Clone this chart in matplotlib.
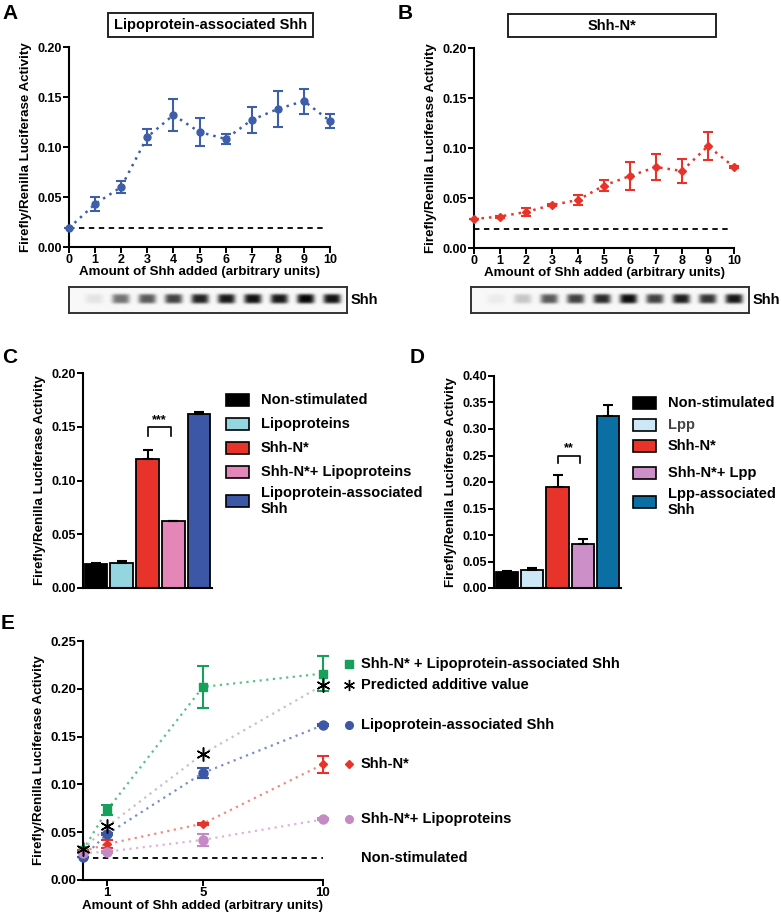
import numpy as np
import matplotlib
matplotlib.use('Agg')
import matplotlib.pyplot as plt
from matplotlib.patches import Rectangle

plt.rcParams['font.family'] = ['Liberation Sans', 'DejaVu Sans']
plt.rcParams['font.weight'] = 'bold'
plt.rcParams['axes.labelweight'] = 'bold'

W, H = 781, 917

# ---- panel A / B : dose response ----
shh_units = np.arange(0, 11)
lipo_mean = [0.019, 0.043, 0.060, 0.110, 0.132, 0.115, 0.108, 0.127, 0.138, 0.146, 0.126]
lipo_err = [0.0, 0.007, 0.006, 0.008, 0.016, 0.014, 0.005, 0.013, 0.018, 0.0125, 0.007]
shhn_mean = [0.029, 0.0315, 0.036, 0.043, 0.048, 0.0625, 0.072, 0.081, 0.077, 0.102, 0.081]
shhn_err = [0.0, 0.001, 0.004, 0.001, 0.005, 0.0055, 0.014, 0.013, 0.012, 0.014, 0.001]
baseline_ab = 0.019
# western blot band intensities (lanes 1..10)
blot_a = [0.08, 0.55, 0.65, 0.75, 0.88, 0.92, 0.95, 0.92, 1.00, 0.95]
blot_b = [0.05, 0.20, 0.65, 0.75, 0.85, 0.97, 0.75, 0.90, 0.80, 0.93]

# ---- panel C / D : bars ----
c_labels = ['Non-stimulated', 'Lipoproteins', 'Shh-N*', 'Shh-N*+ Lipoproteins',
            'Lipoprotein-associated\nShh']
c_vals = [0.0226, 0.0235, 0.120, 0.0626, 0.1615]
c_err = [0.0005, 0.0015, 0.0085, 0.0, 0.0025]
c_colors = ['#000000', '#94d6e0', '#e8332a', '#e586b8', '#3b57a6']
d_labels = ['Non-stimulated', 'Lpp', 'Shh-N*', 'Shh-N*+ Lpp', 'Lpp-associated\nShh']
d_vals = [0.031, 0.034, 0.1915, 0.0823, 0.325]
d_err = [0.001, 0.0035, 0.021, 0.010, 0.020]
d_colors = ['#000000', '#cce8f6', '#e8332a', '#cc8fc8', '#0b6fa4']

# ---- panel E : combination ----
e_doses = [0, 1, 5, 10]
e_combo = [0.031, 0.073, 0.202, 0.216]
e_combo_err = [0.0, 0.005, 0.022, 0.0185]
e_pred = [0.032, 0.056, 0.132, 0.204]
e_lipo = [0.024, 0.048, 0.112, 0.162]
e_lipo_err = [0.0, 0.001, 0.005, 0.001]
e_shhn = [0.030, 0.0376, 0.059, 0.121]
e_shhn_err = [0.0, 0.0045, 0.001, 0.009]
e_mix = [0.028, 0.0296, 0.042, 0.0634]
e_mix_err = [0.0, 0.001, 0.0066, 0.001]
e_base = 0.023

ylab = 'Firefly/Renilla Luciferase Activity'
xlab = 'Amount of Shh added (arbitrary units)'

fig = plt.figure(figsize=(W / 100, H / 100), dpi=100)


def rect(l, t, r, b):
    return [l / W, 1 - b / H, (r - l) / W, (b - t) / H]


def style(ax, size=9):
    for s in ['top', 'right']:
        ax.spines[s].set_visible(False)
    for s in ['left', 'bottom']:
        ax.spines[s].set_linewidth(1.5)
    ax.tick_params(direction='out', length=4, width=1.4, labelsize=size, pad=1)
    for t in ax.get_xticklabels() + ax.get_yticklabels():
        t.set_fontweight('bold')


def fig_text(x, y, s, **kw):
    fig.text(x / W, 1 - y / H, s, **kw)


def title_box(l, t, r, b, s):
    fig.add_artist(Rectangle((l / W, 1 - b / H), (r - l) / W, (b - t) / H,
                             transform=fig.transFigure, fill=False, lw=1.4, ec='#222222'))
    fig_text((l + r) / 2, (t + b) / 2, s, ha='center', va='center', fontsize=10.5)


def dose_panel(ax, mean, err, color, marker, ms):
    ax.errorbar(shh_units, mean, yerr=err, color=color, lw=1.8, ls=(0, (1, 2)),
                marker=marker, ms=ms, capsize=3.5, elinewidth=1.5, capthick=1.5,
                clip_on=False, zorder=3)
    ax.plot([0, 9.85], [baseline_ab] * 2, color='black', lw=1.3, ls=(0, (3, 2.5)))
    ax.set_xlim(0, 10)
    ax.set_ylim(0, 0.2)
    ax.set_xticks(shh_units)
    ax.set_yticks(np.arange(0, 0.201, 0.05))
    ax.set_yticklabels(['%.2f' % v for v in np.arange(0, 0.201, 0.05)])
    ax.set_xlabel(xlab, fontsize=9.6, labelpad=0)
    ax.set_ylabel(ylab, fontsize=9.6, labelpad=4)
    style(ax)


def draw_blot(r, intens):
    ax = fig.add_axes(r)
    xs = np.linspace(0, 10.5, 420)
    ys = np.linspace(0, 1, 40)
    X, Y = np.meshgrid(xs, ys)
    img = np.full(X.shape, 0.97)
    for k, v in enumerate(intens, start=1):
        band = np.exp(-((X - (k - 0.05)) / 0.33) ** 4 - ((Y - 0.55) / 0.19) ** 4)
        img -= 0.95 * v * band
    ax.imshow(np.clip(img, 0, 1), cmap='gray', vmin=0, vmax=1, extent=[0, 10.5, 0, 1],
              aspect='auto', origin='lower', interpolation='bilinear')
    ax.set_xticks([])
    ax.set_yticks([])
    for s in ax.spines.values():
        s.set_linewidth(1.4)
        s.set_color('#333333')


# A
axA = fig.add_axes(rect(69, 47, 330, 247))
dose_panel(axA, lipo_mean, lipo_err, '#3d5ea8', 'o', 5)
title_box(108, 13, 313, 37, 'Lipoprotein-associated Shh')
draw_blot(rect(69, 287, 347, 313), blot_a)
fig_text(351, 300, 'Shh', va='center', fontsize=10.5)

# B
axB = fig.add_axes(rect(474, 48, 734, 248))
dose_panel(axB, shhn_mean, shhn_err, '#e8332a', 'D', 4)
title_box(508, 14, 716, 37, 'Shh-N*')
draw_blot(rect(471, 287, 749, 313), blot_b)
fig_text(753, 300, 'Shh', va='center', fontsize=10.5)


def bar_panel(ax, vals, err, colors, ymax, step, sig, sig_y, leg_labels, leg_x, leg_rows):
    x = np.arange(len(vals))
    ax.bar(x, vals, width=0.88, color=colors, edgecolor='black', lw=1.3,
           yerr=[np.zeros(len(err)), err], capsize=3.5,
           error_kw=dict(elinewidth=1.5, capthick=1.5), zorder=2)
    ax.set_xlim(-0.5, len(vals) - 0.5)
    ax.set_ylim(0, ymax)
    ticks = np.arange(0, ymax + 1e-9, step)
    ax.set_yticks(ticks)
    ax.set_yticklabels(['%.2f' % v for v in ticks])
    ax.set_xticks([])
    ax.set_ylabel(ylab, fontsize=9.6, labelpad=4)
    style(ax)
    # significance bracket between bars 2 and 3
    leg = sig_y * 0.06
    ax.plot([2, 2, 2.9, 2.9], [sig_y - leg, sig_y, sig_y, sig_y - leg], color='black', lw=1.2)
    ax.text(2.45, sig_y + ymax * 0.005, sig, ha='center', va='bottom', fontsize=9)
    for lab, col, y in zip(leg_labels, colors, leg_rows):
        fig.add_artist(Rectangle((leg_x / W, 1 - (y + 6) / H), 23 / W, 12 / H,
                                 transform=fig.transFigure, fc=col, ec='black', lw=1.2))
        fig_text(leg_x + 35, y, lab, va='center', fontsize=10.5, linespacing=1.2,
                 color='#444444' if lab == 'Lpp' else 'black')


# C
axC = fig.add_axes(rect(83, 373, 212, 588))
bar_panel(axC, c_vals, c_err, c_colors, 0.2, 0.05, '***', 0.150, c_labels, 226,
          [400, 424, 448, 472, 501])
# D
axD = fig.add_axes(rect(494, 376, 621, 588))
bar_panel(axD, d_vals, d_err, d_colors, 0.4, 0.05, '**', 0.250, d_labels, 633,
          [403, 425, 446, 473, 502])

# E
axE = fig.add_axes(rect(83, 641, 323, 880))
series = [
    (e_combo, e_combo_err, '#17a05a', '#5cc08a', 's', 6, 'Shh-N* + Lipoprotein-associated Shh', 0.0096),
    (e_lipo, e_lipo_err, '#3b57a6', '#7d8cc8', 'o', 6.5, 'Lipoprotein-associated Shh', 0.0),
    (e_shhn, e_shhn_err, '#e8332a', '#f08a80', 'D', 4.5, 'Shh-N*', 0.0),
    (e_mix, e_mix_err, '#c48ac4', '#dcb4dc', 'o', 6.5, 'Shh-N*+ Lipoproteins', 0.0),
]
leg_mx, leg_tx = 11.08, 11.58
for vals, err, col, lcol, mk, ms, lab, dy in series:
    axE.plot(e_doses, vals, color=lcol, lw=1.6, ls=(0, (1, 2)), zorder=2, clip_on=False)
    axE.errorbar(e_doses, vals, yerr=err, color=col, ls='none', marker=mk, ms=ms,
                 capsize=4, elinewidth=1.5, capthick=1.5, zorder=3, clip_on=False)
    ly = vals[-1] + dy
    axE.plot([leg_mx], [ly], marker=mk, color=col, ms=ms * 0.85, clip_on=False)
    axE.text(leg_tx, ly, lab, va='center', fontsize=10.5, clip_on=False)

axE.plot(e_doses, e_pred, color='#cdbfc6', lw=1.6, ls=(0, (1, 2)), zorder=2, clip_on=False)
axE.plot(e_doses, e_pred, ls='none', marker=(6, 2, 0), ms=10, mew=1.1, color='black',
         zorder=4, clip_on=False)
axE.plot([leg_mx], [e_pred[-1]], marker=(6, 2, 0), ms=8, mew=1.0, color='black', clip_on=False)
axE.text(leg_tx, e_pred[-1], 'Predicted additive value', va='center', fontsize=10.5, clip_on=False)

axE.plot([0, 10], [e_base] * 2, color='black', lw=1.3, ls=(0, (3, 2.5)))
axE.text(leg_tx, e_base, 'Non-stimulated', va='center', fontsize=10.5, clip_on=False)

axE.set_xlim(0, 10)
axE.set_ylim(0, 0.25)
axE.set_xticks([1, 5, 10])
eticks = np.arange(0, 0.251, 0.05)
axE.set_yticks(eticks)
axE.set_yticklabels(['%.2f' % v for v in eticks])
axE.set_xlabel(xlab, fontsize=9.6, labelpad=1)
axE.set_ylabel(ylab, fontsize=9.6, labelpad=4)
style(axE, 9.5)

# panel letters
for s, x, y in [('A', 2, 4), ('B', 398, 4), ('C', 2, 348), ('D', 410, 348), ('E', 1, 614)]:
    fig_text(x, y, s, fontsize=15, va='top', ha='left')

fig.savefig('out.png', dpi=100)
